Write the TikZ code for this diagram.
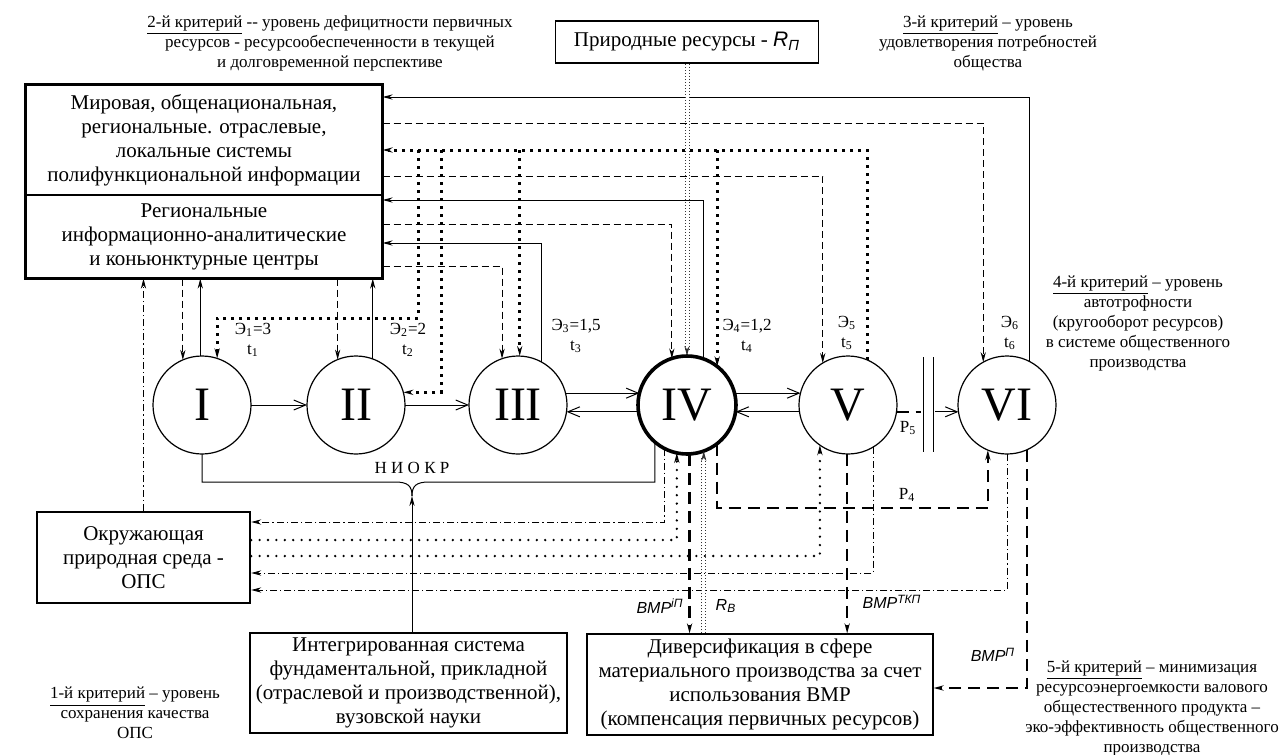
\documentclass[tikz,border=0pt]{standalone}
\usepackage{fontspec}
\setmainfont{Liberation Serif}
\setsansfont{Liberation Sans}
\usetikzlibrary{positioning,arrows.meta,calc}

\begin{document}
\begin{tikzpicture}[x=0.5pt, y=-0.5pt,
  box/.style={draw, line width=0.6pt, align=center, inner sep=0pt, font=\fontsize{10.5}{12}\selectfont},
  stage/.style={draw, circle, minimum size=49pt, inner sep=0pt, outer sep=0pt, font=\fontsize{24}{24}\selectfont},
  crit/.style={align=center, inner sep=0pt, font=\fontsize{8.5}{10}\selectfont},
  lbl/.style={align=center, inner sep=1pt, font=\fontsize{8.5}{10}\selectfont},
  vmr/.style={inner sep=1pt, font=\sffamily\itshape\fontsize{8}{9}\selectfont},
  >={Stealth[length=5pt, width=2.6pt]},
  flow/.style={line width=0.5pt},
  dsh/.style={line width=0.45pt, dash pattern=on 3.5pt off 2pt},
  bigdot/.style={line width=1.5pt, dash pattern=on 1.5pt off 2.5pt},
  rdot/.style={line width=1.3pt, line cap=round, dash pattern=on 0pt off 4.2pt},
  dshdot/.style={line width=0.45pt, dash pattern=on 3.5pt off 1.5pt on 0.6pt off 1.5pt},
  bigdsh/.style={line width=1.2pt, dash pattern=on 6pt off 3.5pt},
  res/.style={draw=black!80, double=white, double distance=1.5pt, line width=0.5pt, densely dotted},
  barb/.style={-{Straight Barb[length=6pt, width=5pt]}}
]
  \useasboundingbox (0,0) rectangle (1286,755);

  % Information systems
  \node[box, minimum width=178pt, minimum height=55pt] (info) at (204,140)
    {Мировая, общенациональная,\\региональные. отраслевые,\\локальные системы\\полифункциональной информации};
  \node[box, minimum width=178pt, minimum height=41.5pt] (centr) at (204,236.5)
    {Региональные\\информационно-аналитические\\и коньюнктурные центры};
  \draw[line width=1.2pt] (info.north west) rectangle (centr.south east);

  % Other boxes
  \node[box, minimum width=131.5pt, minimum height=21pt] (rp) at (687,42)
    {Природные ресурсы - {\sffamily\itshape R\textsubscript{П}}};
  \node[box, line width=1.2pt, minimum width=106.5pt, minimum height=45.5pt] (ops) at (143.5,557.5)
    {Окружающая\\природная среда -\\ОПС};
  \node[box, minimum width=158.5pt, minimum height=50pt] (nauka) at (408.5,683)
    {Интегрированная система\\фундаментальной, прикладной\\(отраслевой и производственной),\\вузовской науки};
  \node[box, minimum width=173pt, minimum height=50.5pt] (divers) at (760,684.5)
    {Диверсификация в сфере\\материального производства за счет\\использования ВМР\\(компенсация первичных ресурсов)};

  % Stages
  \foreach \i/\lab/\x/\w in {1/I/202/0.6pt, 2/II/356/0.6pt, 3/III/518/0.6pt, 4/IV/687/1.8pt, 5/V/848/0.6pt, 6/VI/1007/0.6pt} {
    \node[stage, line width=\w] (c\i) at (\x,405) {\lab};
  }
  \foreach \i/\x/\y/\e/\t in {1/253/340/{=3}/1, 2/408/340/{=2}/2, 3/576/336/{=1,5}/3, 4/747/336/{=1,2}/4, 5/847/333/{}/5, 6/1010/333/{}/6} {
    \node[lbl] (e\i) at (\x,\y) {Э\textsubscript{\i}\e\\t\textsubscript{\t}};
  }

  % Criteria
  \node[crit] (crit2) at (330,43) {\underline{2-й критерий} -{}- уровень дефицитности первичных\\ресурсов - ресурсообеспеченности в текущей\\и долговременной перспективе};
  \node[crit] (crit3) at (988,43) {\underline{3-й критерий} – уровень\\удовлетворения потребностей\\общества};
  \node[crit] (crit4) at (1138,323) {\underline{4-й критерий} – уровень\\автотрофности\\(кругооборот ресурсов)\\в системе общественного\\производства};
  \node[crit] (crit5) at (1152,708) {\underline{5-й критерий} – минимизация\\ресурсоэнергоемкости валового\\общестественного продукта –\\эко-эффективность общественного\\производства};
  \node[crit] (crit1) at (135,713) {\underline{1-й критерий} – уровень\\сохранения качества\\ОПС};

  % Flow between stages
  \draw[flow, barb] (c1) -- (c2);
  \draw[flow, barb] (c2) -- (c3);
  \draw[flow, barb] (c3.14) -- (c4.166);
  \draw[flow, barb] (c4.188) -- (c3.-8);
  \draw[flow, barb] (c4.14) -- (c5.166);
  \draw[flow, barb] (c5.188) -- (c4.-8);
  \draw[flow] (923,357) -- (923,452);
  \draw[flow] (933,357) -- (933,452);
  \draw[bigdsh, line width=1pt] (c5.-8) -- (c5.-8 -| 921,0);
  \draw[flow, barb] (c6.188 -| 935,0) -- (c6.188);
  \node[lbl] (p5) at (908,428) {P\textsubscript{5}};

  % Links to the information systems
  \coordinate (j1) at (418,150);
  \coordinate (j2) at (441,150);
  \draw[flow, ->] (c6.63) |- (info.east |- 0,97);
  \draw[dsh, ->] (info.east |- 0,123) -| (c6.119);
  \draw[bigdot, ->] (c5.67) |- (info.east |- 0,150);
  \draw[bigdot, ->] (j1) |- (c1.72 |- 0,318) -- (c1.72);
  \draw[bigdot, ->] (j2) |- (c2.15);
  \draw[bigdot, ->] (c3.88 |- 0,150) -- (c3.88);
  \draw[bigdot, ->] (c4.52 |- 0,150) -- (c4.52);
  \draw[dsh, ->] (info.east |- 0,176) -| (c5.121);
  \draw[flow, ->] (c4.70) |- (centr.east |- 0,200);
  \draw[dsh, ->] (centr.east |- 0,224) -| (c4.108);
  \draw[flow, ->] (c3.62) |- (centr.east |- 0,243);
  \draw[dsh, ->] (centr.east |- 0,266) -| (c3.109);
  \draw[dsh, ->] (centr.south -| c1.113) -- (c1.113);
  \draw[flow, ->] (c1.92) -- (c1.92 |- centr.south);
  \draw[dsh, ->] (centr.south -| c2.112) -- (c2.112);
  \draw[flow, ->] (c2.70) -- (c2.70 |- centr.south);
  \draw[res, ->] (rp.south) -- (c4.north);
  \draw[dshdot, ->] (ops.north) -- (ops.north |- centr.south);

  % NIOKR
  \coordinate (cusp) at (412,496);
  \draw[flow] (c1.south) |- ($(cusp)+(-17,-14)$) .. controls ($(cusp)+(-4,-14)$) and ($(cusp)+(0,-10)$) .. (cusp);
  \draw[flow] (c4.-131) |- ($(cusp)+(17,-14)$) .. controls ($(cusp)+(4,-14)$) and ($(cusp)+(0,-10)$) .. (cusp);
  \draw[flow, ->] (nauka.north -| cusp) -- (cusp);
  \node[lbl] (niokr) at (412,468) {Н И О К Р};

  % Links to the environment
  \draw[dshdot, ->] (c4.-117) |- (ops.east |- 0,522);
  \draw[rdot, ->] (ops.east |- 0,540) -| (c4.-102);
  \draw[rdot, ->] (ops.east |- 0,556) -| (c5.-125);
  \draw[dshdot, ->] (c5.-59) |- (ops.east |- 0,573);
  \draw[dshdot, ->] (c6.-90) |- (ops.east |- 0,590);

  % P4 and secondary resources
  \draw[bigdsh, ->] (c4.-52) |- (c6.-113 |- 0,508) -- (c6.-113);
  \node[lbl] (p4) at (907,495) {P\textsubscript{4}};
  \draw[bigdsh, ->] (c4.-87) -- (c4.-87 |- divers.north);
  \draw[res, ->] (divers.north -| c4.-70) -- (c4.-70);
  \draw[bigdsh, ->] (c5.-91) -- (c5.-91 |- divers.north);
  \draw[bigdsh, ->] (c6.-66) |- (divers.east |- 0,688);
  \node[vmr, anchor=east] (vmr1) at (686,606) {ВМР\textsuperscript{iП}};
  \node[vmr] (rv) at (726,606) {R\textsubscript{В}};
  \node[vmr] (vmr2) at (892,602) {ВМР\textsuperscript{ТКП}};
  \node[vmr] (vmr3) at (993,655) {ВМР\textsuperscript{П}};
\end{tikzpicture}
\end{document}
